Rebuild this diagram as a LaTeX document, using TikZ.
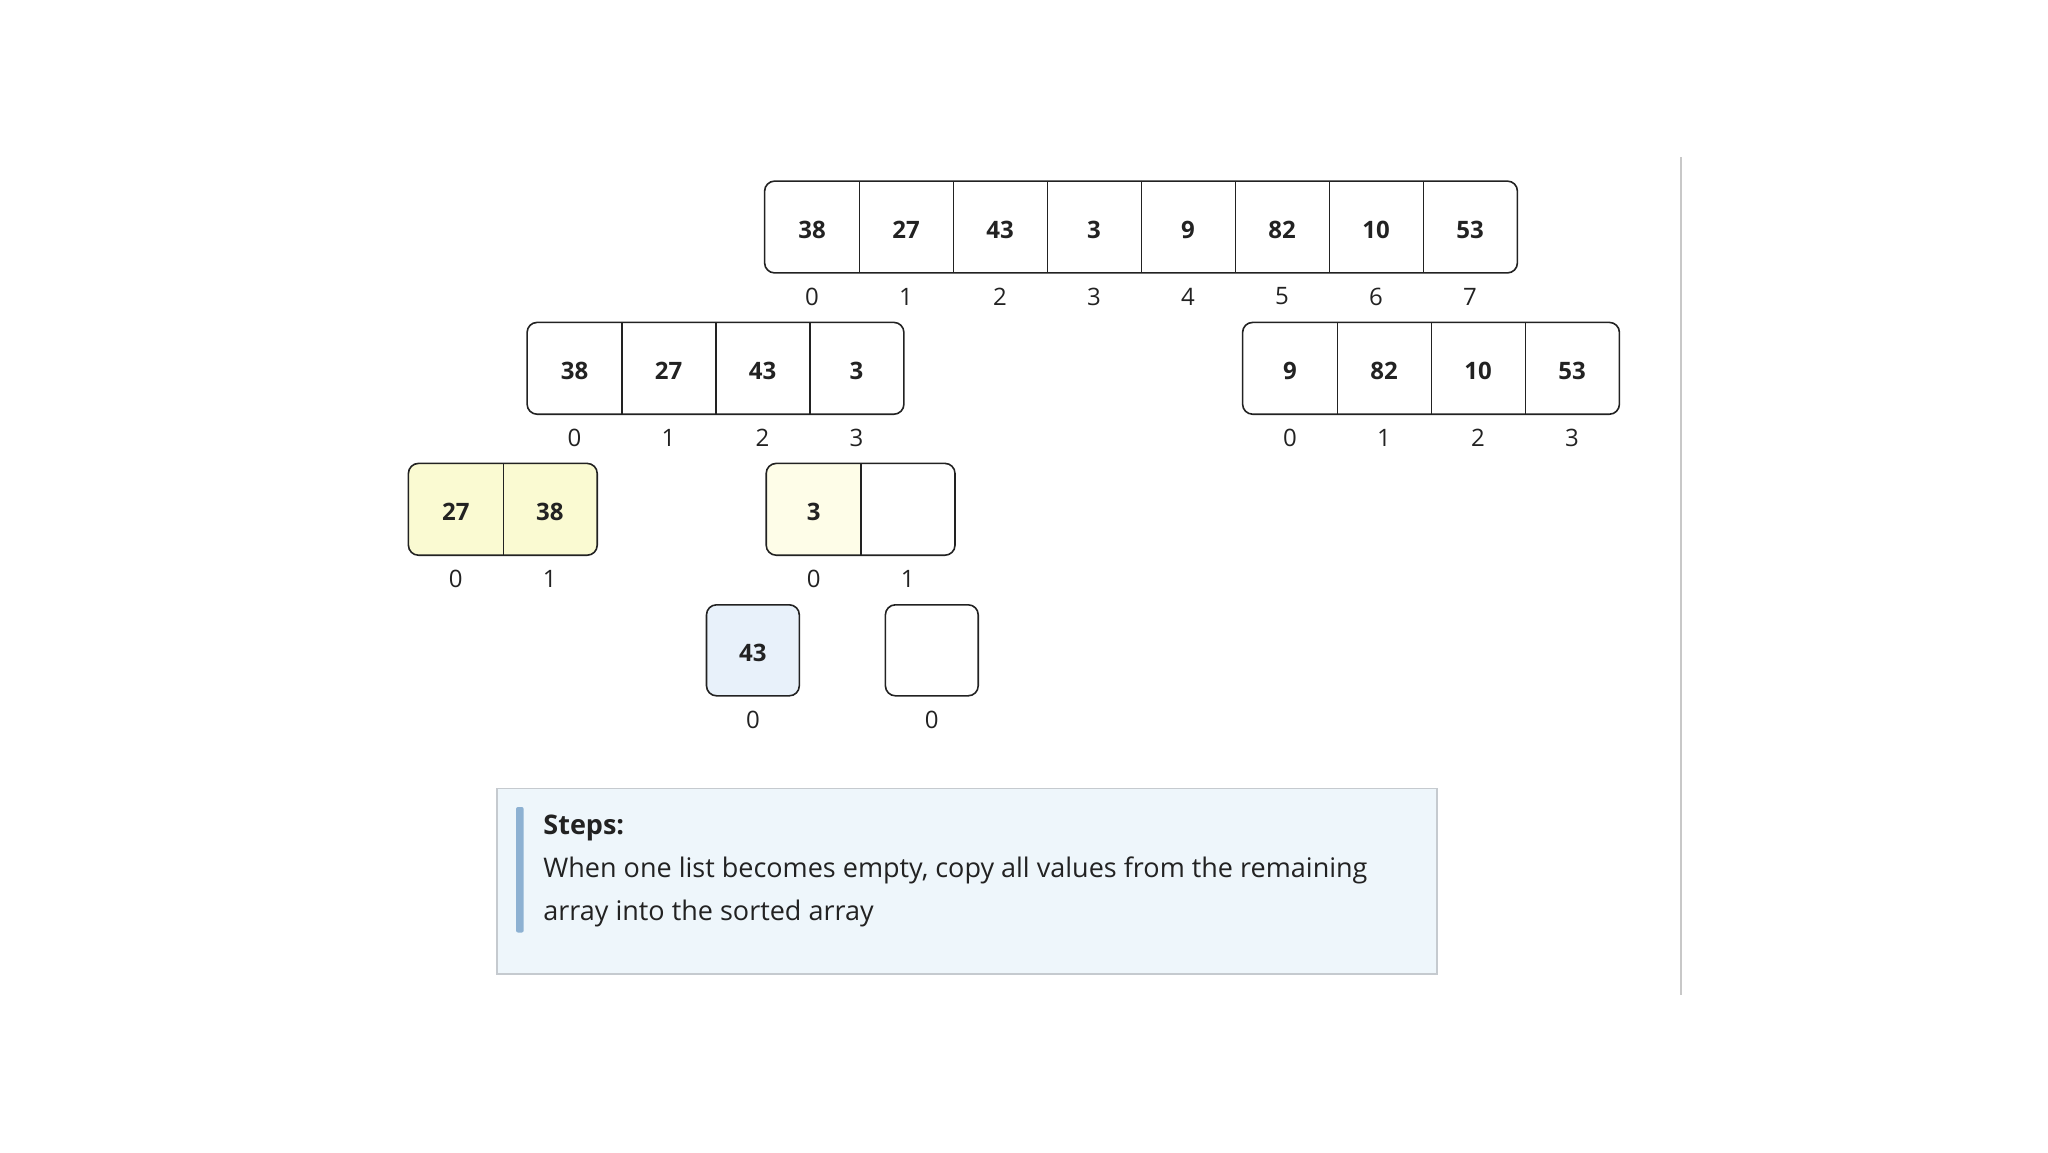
\documentclass[tikz,border=0pt]{standalone}
\usepackage{fontspec}
\setmainfont{Open Sans}
\usetikzlibrary{positioning}

\definecolor{inkc}{HTML}{222222}
\definecolor{fillyel}{HTML}{FAFAD2}
\definecolor{fillpale}{HTML}{FEFDE8}
\definecolor{fillblue}{HTML}{E8F1FA}
\definecolor{notefill}{HTML}{EEF6FB}
\definecolor{noteedge}{HTML}{C5CACF}
\definecolor{notebar}{HTML}{8DB1D2}
\definecolor{sepline}{HTML}{C8C8C8}

\tikzset{
  cell/.style={rectangle, minimum width=47pt, minimum height=45.5pt, inner sep=0pt, text height=11.2pt, text depth=0pt, text=inkc, font=\bfseries\fontsize{12}{14}\selectfont},
  idx/.style={inner sep=0pt, text=inkc, font=\fontsize{12}{14}\selectfont},
  frame/.style={draw=inkc, line width=0.8pt, rounded corners=5pt},
  divider/.style={draw=inkc, line width=0.7pt}
}

\begin{document}
\begin{tikzpicture}[x=0.5pt,y=-0.5pt]
    \useasboundingbox (0,0) rectangle (2048,1152);

    % full array
    \foreach \v [count=\i from 0] in {38,27,43,3,9,82,10,53}{
      \node[cell] (top\i) at (812+94*\i,227) {\v};
      \node[idx] (topi\i) at (812+94*\i,296.5) {\i};
    }
    \draw[frame] (top0.north west) rectangle (top7.south east);
    \foreach \i in {0,...,6} \draw[divider] (top\i.north east) -- (top\i.south east);

    % left half
    \foreach \v [count=\i from 0] in {38,27,43,3}{
      \node[cell] (left\i) at (574.5+94*\i,368.3) {\v};
      \node[idx] (lefti\i) at (574.5+94*\i,437.5) {\i};
    }
    \draw[frame] (left0.north west) rectangle (left3.south east);
    \foreach \i in {0,...,2} \draw[divider] (left\i.north east) -- (left\i.south east);

    % right half
    \foreach \v [count=\i from 0] in {9,82,10,53}{
      \node[cell] (right\i) at (1290+94*\i,368.3) {\v};
      \node[idx] (righti\i) at (1290+94*\i,437.5) {\i};
    }
    \draw[frame] (right0.north west) rectangle (right3.south east);
    \foreach \i in {0,...,2} \draw[divider] (right\i.north east) -- (right\i.south east);

    % sorted pair
    \node[cell] (pair0) at (455.8,509.3) {};
    \node[cell] (pair1) at (549.8,509.3) {};
    \fill[fillyel, rounded corners=5pt] (pair0.north west) rectangle (pair1.south east);
    \node[cell] at (pair0) {27};
    \node[cell] at (pair1) {38};
    \node[idx] (pairi0) at (455.8,578.6) {0};
    \node[idx] (pairi1) at (549.8,578.6) {1};
    \draw[frame] (pair0.north west) rectangle (pair1.south east);
    \draw[divider] (pair0.north east) -- (pair0.south east);

    % merged so far
    \node[cell] (merge0) at (813.6,509.3) {};
    \node[cell] (merge1) at (907.6,509.3) {};
    \begin{scope}
      \clip[rounded corners=5pt] (merge0.north west) rectangle (merge1.south east);
      \fill[fillpale] (merge0.north west) rectangle (merge0.south east);
    \end{scope}
    \node[cell] at (merge0) {3};
    \node[idx] (mergei0) at (813.6,578.6) {0};
    \node[idx] (mergei1) at (907.6,578.6) {1};
    \draw[frame] (merge0.north west) rectangle (merge1.south east);
    \draw[divider] (merge0.north east) -- (merge0.south east);

    % remaining lists
    \node[cell, frame, fill=fillblue, minimum width=46.4pt] (rest) at (752.9,650.3) {43};
    \node[idx] (resti) at (752.9,719.6) {0};
    \node[cell, frame, minimum width=46.4pt] (empty) at (931.8,650.3) {};
    \node[idx] (emptyi) at (931.8,719.6) {0};

    % note
    \node[rectangle, draw=noteedge, line width=0.8pt, fill=notefill, anchor=north west,
          minimum width=470pt, minimum height=92.7pt, inner sep=0pt] (note) at (496.3,787.5) {};
    \fill[notebar, rounded corners=1pt] (516,807) rectangle (523.7,932.5);
    \node[anchor=north west, align=left, inner sep=0pt, text=inkc,
          font=\fontsize{13.5}{21.5}\selectfont] (notetext) at (543,815)
          {\textbf{Steps:}\\When one list becomes empty, copy all values from the remaining\\array into the sorted array};

    \draw[sepline, line width=1pt] (1681,157) -- (1681,995);
\end{tikzpicture}
\end{document}
